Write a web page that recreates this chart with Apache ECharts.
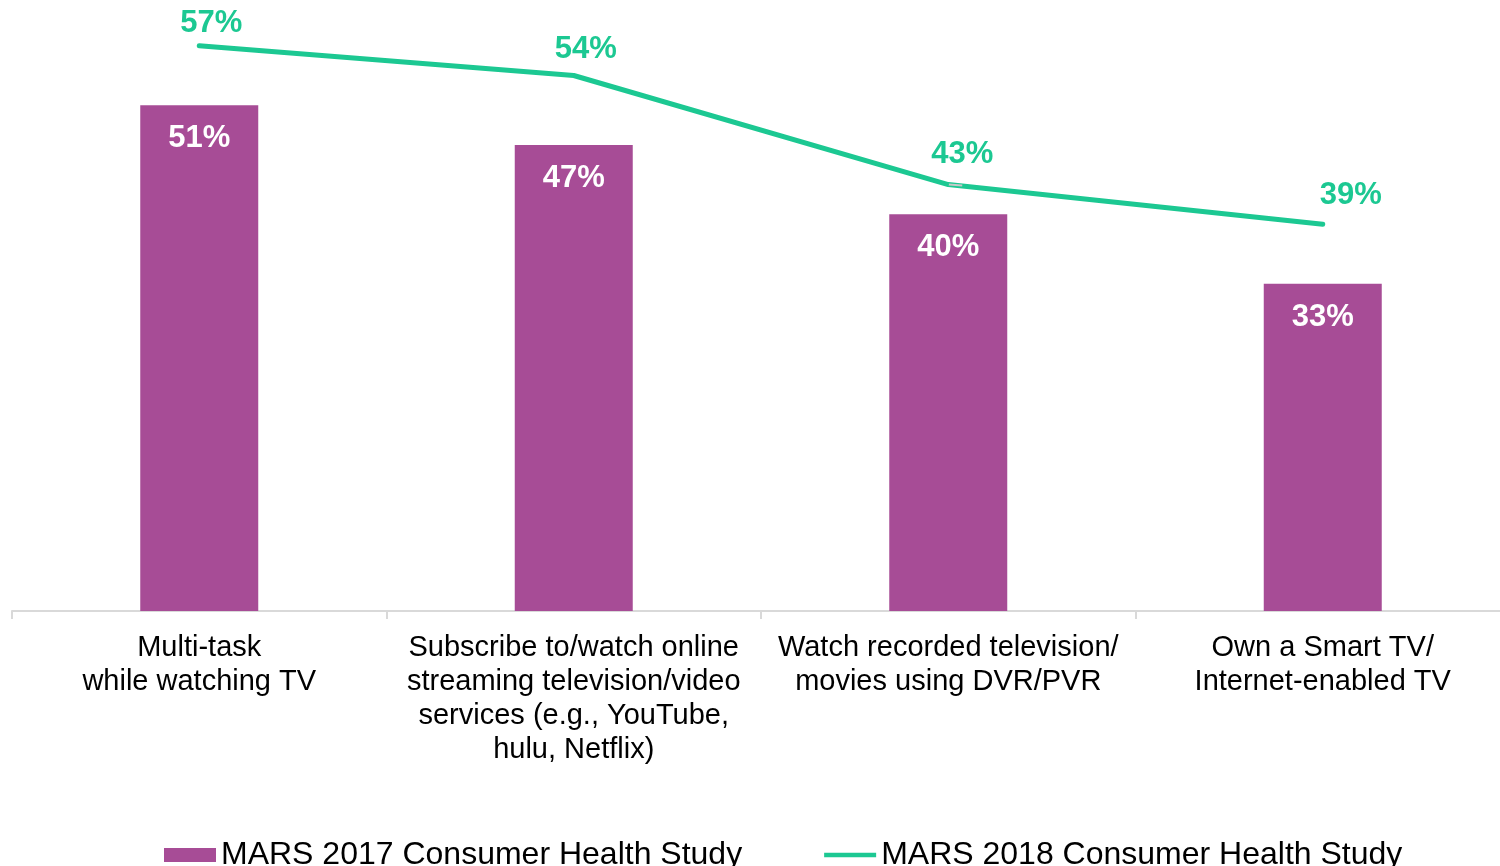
<!DOCTYPE html>
<html>
<head>
<meta charset="utf-8">
<title>MARS Consumer Health Study – TV habits</title>
<script src="https://cdn.jsdelivr.net/npm/echarts@6/dist/echarts.min.js"></script>
<style>
  html, body { margin: 0; padding: 0; background: #ffffff; }
  #chart { width: 1500px; height: 866px; }
</style>
</head>
<body>
<div id="chart"></div>
<script>
// Activities (axis categories)
const categories = [
  'Multi-task\nwhile watching TV',
  'Subscribe to/watch online\nstreaming television/video\nservices (e.g., YouTube,\nhulu, Netflix)',
  'Watch recorded television/\nmovies using DVR/PVR',
  'Own a Smart TV/\nInternet-enabled TV'
];

// Share of respondents, percent
const study2017 = [51, 47, 40, 33];
const study2018 = [57, 54, 43, 39];

const seriesNames = ['MARS 2017 Consumer Health Study', 'MARS 2018 Consumer Health Study'];

const purple = '#a74c96';
const green = '#1cc892';

// Small nudges so line labels sit up and to the right of each point
const lineLabelOffsets = [[12, 0], [12, -4], [14, -8], [28, -7]];
// Only the third label gets a short leader line
const lineLabelLeader = [false, false, true, false];

const chart = echarts.init(document.getElementById('chart'));

chart.setOption({
  animation: false,
  textStyle: { fontFamily: 'Liberation Sans, Arial, sans-serif' },
  grid: {
    left: 12, width: 1498, top: 16, bottom: 255,
    containLabel: false,
    outerBoundsMode: 'none'
  },
  xAxis: {
    type: 'category',
    data: categories,
    axisLine: { lineStyle: { color: '#d9d9d9', width: 2 } },
    axisTick: { show: true, alignWithLabel: false, length: 8, lineStyle: { color: '#d9d9d9', width: 2 } },
    axisLabel: {
      interval: 0,
      color: '#000000',
      fontSize: 29,
      lineHeight: 34,
      margin: 20
    }
  },
  yAxis: {
    type: 'value',
    min: 0,
    max: 60,
    show: false,
    splitLine: { show: false }
  },
  legend: {
    top: 834,
    left: 159,
    itemGap: 82,
    itemWidth: 52,
    itemHeight: 14,
    textStyle: {
      color: '#000000',
      fontSize: 32
    },
    data: [
      { name: seriesNames[0], icon: 'rect' },
      { name: seriesNames[1], icon: 'path://M0,0 L56,0 L56,5 L0,5 Z', itemStyle: { color: green } }
    ]
  },
  series: [
    {
      name: seriesNames[0],
      type: 'bar',
      data: study2017,
      barWidth: 118,
      itemStyle: { color: purple },
      label: {
        show: true,
        position: 'insideTop',
        distance: 18,
        color: '#ffffff',
        fontSize: 31,
        fontWeight: 'bold',
        formatter: p => p.value + '%'
      }
    },
    {
      name: seriesNames[1],
      type: 'line',
      data: study2018.map((v, i) => ({
        value: v,
        label: { offset: lineLabelOffsets[i] },
        labelLine: { show: lineLabelLeader[i] }
      })),
      symbol: 'circle',
      symbolSize: 1,
      showSymbol: true,
      lineStyle: { color: green, width: 5, cap: 'round', join: 'round' },
      itemStyle: { color: green },
      labelLine: {
        show: false,
        lineStyle: { color: '#c8c8c8', width: 2 }
      },
      label: {
        show: true,
        position: 'top',
        distance: 6,
        color: green,
        fontSize: 31,
        fontWeight: 'bold',
        formatter: p => p.value + '%'
      }
    }
  ]
});
</script>
</body>
</html>
